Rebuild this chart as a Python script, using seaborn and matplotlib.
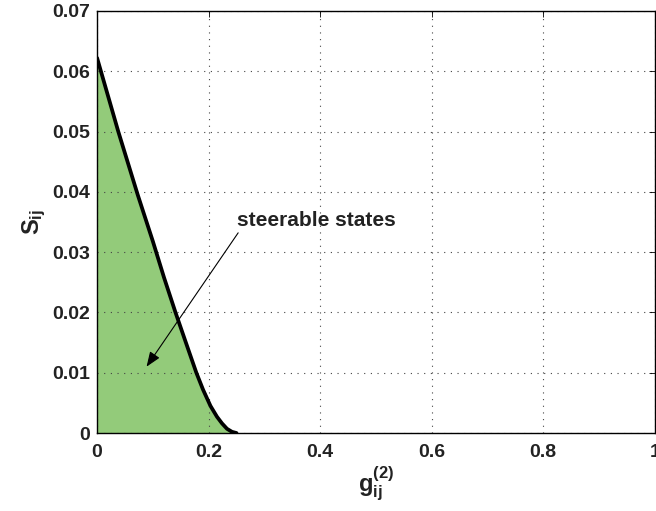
import matplotlib
matplotlib.use("Agg")
import matplotlib.pyplot as plt
import seaborn as sns
import pandas as pd

# data
g_vals = [0.0, 0.038, 0.0729, 0.1, 0.12, 0.1406, 0.16, 0.178, 0.19, 0.2033, 0.215,
          0.224, 0.233, 0.2419, 0.25]
s_vals = [0.0622, 0.050, 0.0395, 0.0318, 0.0258, 0.0200, 0.0148, 0.0100, 0.0072, 0.0045, 0.0027,
          0.0016, 0.0007, 0.0002, 0.0]
x_ticks = [0, 0.2, 0.4, 0.6, 0.8, 1]
x_tick_labels = ["0", "0.2", "0.4", "0.6", "0.8", "1"]
y_ticks = [0, 0.01, 0.02, 0.03, 0.04, 0.05, 0.06, 0.07]
y_tick_labels = ["0", "0.01", "0.02", "0.03", "0.04", "0.05", "0.06", "0.07"]
annot_text = "steerable states"

sns.set_style("white")
plt.rcParams["font.family"] = ["Liberation Sans", "DejaVu Sans"]
plt.rcParams["mathtext.fontset"] = "custom"
plt.rcParams["mathtext.rm"] = "Liberation Sans:bold"
plt.rcParams["mathtext.bf"] = "Liberation Sans:bold"
plt.rcParams["mathtext.it"] = "Liberation Sans:bold"
plt.rcParams["mathtext.default"] = "bf"

df = pd.DataFrame({"g": g_vals, "S": s_vals})

fig = plt.figure(figsize=(6.56, 5.11), dpi=100)
ax = fig.add_axes([0.148, 0.1526, 0.850, 0.826])

ax.fill_between(df["g"], df["S"], 0, color="#93cb7a", linewidth=0, zorder=1)
sns.lineplot(data=df, x="g", y="S", ax=ax, color="black", linewidth=2.7, sort=False,
             estimator=None, zorder=3, solid_joinstyle="round", solid_capstyle="round")

ax.set_xlim(0, 1)
ax.set_ylim(0, 0.07)
ax.set_xticks(x_ticks)
ax.set_xticklabels(x_tick_labels)
ax.set_yticks(y_ticks)
ax.set_yticklabels(y_tick_labels)
for lab in ax.get_xticklabels() + ax.get_yticklabels():
    lab.set_fontweight("bold")
    lab.set_fontsize(14)
ax.tick_params(direction="in", length=4, width=0.6, top=True, right=True, colors="black")
ax.tick_params(axis="x", labelcolor="#222222", pad=8)
ax.tick_params(axis="y", labelcolor="#222222", pad=5)

ax.grid(True, linestyle=(0, (1, 5)), color="#444444", linewidth=0.8)
ax.set_axisbelow(False)
for sp in ax.spines.values():
    sp.set_color("black")
    sp.set_linewidth(1.0)
    sp.set_zorder(4)

ax.set_xlabel(r"$g_{ij}^{(2)}$", fontsize=17, labelpad=3, color="#222222")
ax.set_ylabel(r"$S_{ij}$", fontsize=17, labelpad=3, color="#222222")

ax.text(0.2516, 0.0352, annot_text, fontsize=15, fontweight="bold", color="#222222",
        ha="left", va="center", zorder=5)
ax.annotate("", xy=(0.0887, 0.0110), xytext=(0.253, 0.0332),
            arrowprops=dict(arrowstyle="-|>,head_length=0.9,head_width=0.35", color="black",
                            lw=0.8, shrinkA=0, shrinkB=0), zorder=5)

fig.savefig("out.png", dpi=100)
